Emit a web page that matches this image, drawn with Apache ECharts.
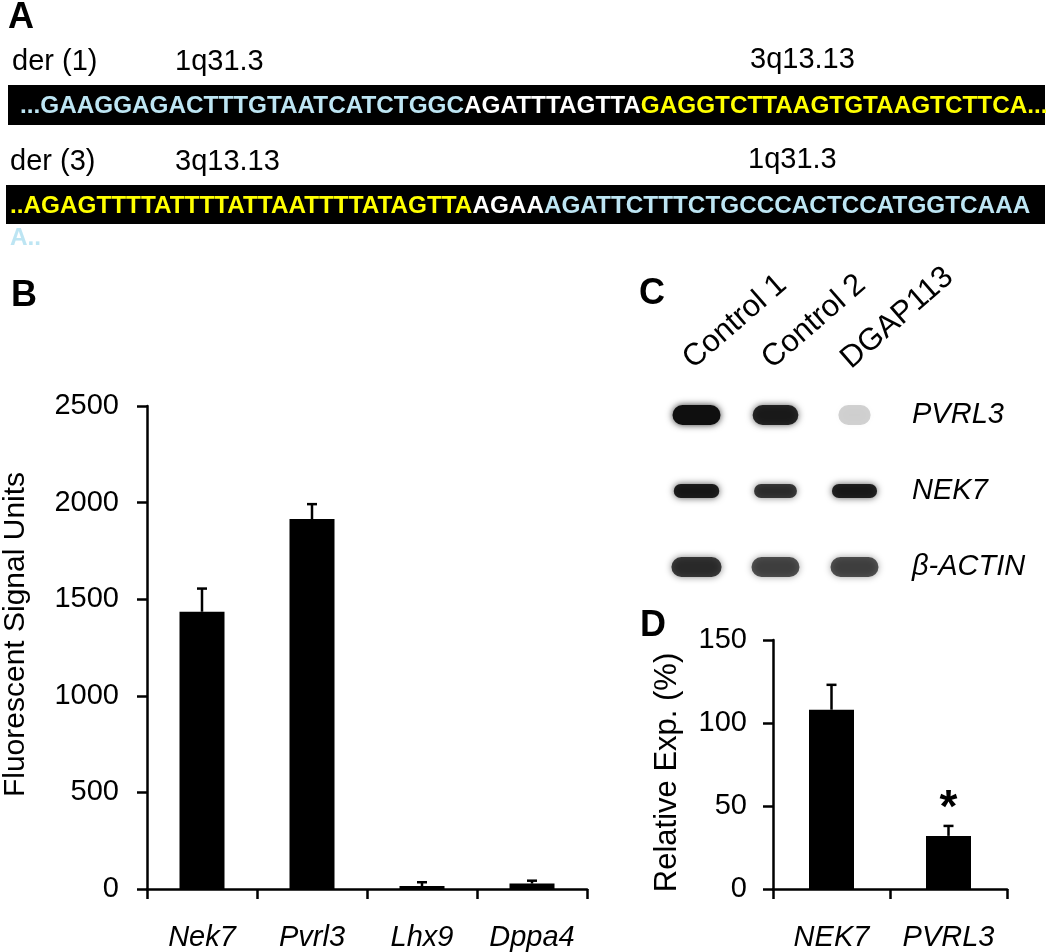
<!DOCTYPE html>
<html>
<head>
<meta charset="utf-8">
<script src="https://cdn.jsdelivr.net/npm/echarts@6/dist/echarts.min.js"></script>
<style>
  html, body { margin: 0; padding: 0; background: #fff; }
  #main { width: 1050px; height: 952px; }
</style>
</head>
<body>
<div id="main"></div>
<script>
// panel A: breakpoint sequences (segments: chr1 / junction / chr3)
var der1Seq = ['...GAAGGAGACTTTGTAATCATCTGGC', 'AGATTTAGTTA', 'GAGGTCTTAAGTGTAAGTCTTCA...'];
var der3Seq = ['..AGAGTTTTATTTTATTAATTTTATAGTTA', 'AGAA', 'AGATTCTTTCTGCCCACTCCATGGTCAAA'];
var der3Wrap = 'A..';

// panel B
var genesB = ['Nek7', 'Pvrl3', 'Lhx9', 'Dppa4'];
var signalB = [1435, 1915, 15, 28];
var errB = [120, 77, 20, 15];

// panel C: band intensity (0..1) per lane
var lanes = ['Control 1', 'Control 2', 'DGAP113'];
var blotRows = ['PVRL3', 'NEK7', 'β-ACTIN'];
var bandPVRL3 = [1.0, 0.88, 0.18];
var bandNEK7 = [0.92, 0.78, 0.9];
var bandACTIN = [0.78, 0.68, 0.68];

// panel D
var genesD = ['NEK7', 'PVRL3'];
var relExp = [108, 32];
var errD = [15, 6];
var sigD = ['', '*'];

var FONT = 'Liberation Sans, Arial, sans-serif';
var BLUE = '#bde5f3', YEL = '#ffff00';

var chart = echarts.init(document.getElementById('main'));

function errItem(sig) {
  return function (params, api) {
    var i = params.dataIndex;
    var v = api.value(1), e = api.value(2);
    var b = api.coord([i, v]);
    var t = api.coord([i, v + e]);
    var kids = [
      { type: 'line', shape: { x1: b[0], y1: b[1], x2: t[0], y2: t[1] }, style: { stroke: '#000', lineWidth: 2.5 } },
      { type: 'line', shape: { x1: t[0] - 5, y1: t[1], x2: t[0] + 5, y2: t[1] }, style: { stroke: '#000', lineWidth: 2.5 } }
    ];
    if (sig && sig[i]) {
      kids.push({ type: 'text', x: t[0], y: t[1] + 6,
        style: { text: sig[i], font: 'bold 46px ' + FONT, fill: '#000', align: 'center', verticalAlign: 'bottom' } });
    }
    return { type: 'group', children: kids };
  };
}

var bandW = [48, 47, 55], bandH = [20, 14, 20];
function bandItem(params, api) {
  var p = api.coord([api.value(0), api.value(1)]);
  var r = api.value(1), k = api.value(2);
  var w = bandW[r] * (0.6 + 0.4 * k), h = bandH[r];
  return {
    type: 'rect',
    shape: { x: p[0] - w / 2, y: p[1] - h / 2, width: w, height: h, r: h / 2 },
    style: { fill: 'rgba(15,15,15,' + k + ')', shadowBlur: 7, shadowColor: 'rgba(0,0,0,' + (0.8 * k) + ')' }
  };
}

var bandData = [];
[bandPVRL3, bandNEK7, bandACTIN].forEach(function (row, r) {
  row.forEach(function (k, l) { bandData.push([l, r, k]); });
});

var axisLine = { show: true, lineStyle: { color: '#000', width: 2.5 } };
var tick = { show: true, length: 10, lineStyle: { color: '#000', width: 2.5 } };
var lbl = { color: '#000', fontSize: 29, fontFamily: FONT };
var plain = function (v) { return String(v); };

function txt(x, y, s, extra) {
  var st = { text: s, font: '29px ' + FONT, fill: '#000', verticalAlign: 'middle' };
  for (var k in extra) st[k] = extra[k];
  return { type: 'text', x: x, y: y, style: st };
}

function richRow(segs, colors) {
  var str = segs.map(function (s, i) { return '{c' + i + '|' + s + '}'; }).join('');
  var rich = {};
  colors.forEach(function (c, i) {
    rich['c' + i] = { fill: c, fontSize: 24.3, fontWeight: 'bold', fontFamily: FONT };
  });
  return { text: str, rich: rich, verticalAlign: 'middle', font: 'bold 24.3px ' + FONT };
}

var option = {
  animation: false,
  backgroundColor: '#fff',
  grid: [
    { left: 141, top: 406, width: 446, height: 483 },
    { left: 773, top: 640, width: 234, height: 249 },
    { left: 657, top: 377, width: 237, height: 228 },
    { left: 648, top: 375, width: 237, height: 228 }
  ],
  xAxis: [
    { gridIndex: 0, type: 'category', data: genesB, axisLine: axisLine, axisTick: tick,
      axisLabel: Object.assign({ fontStyle: 'italic', margin: 34, interval: 0 }, lbl) },
    { gridIndex: 1, type: 'category', data: genesD, axisLine: axisLine, axisTick: tick,
      axisLabel: Object.assign({ fontStyle: 'italic', margin: 34, interval: 0 }, lbl) },
    { gridIndex: 2, type: 'category', data: lanes, show: false },
    { gridIndex: 3, type: 'category', data: lanes, position: 'top',
      axisLine: { show: false }, axisTick: { show: false },
      axisLabel: { rotate: 41, margin: 12, interval: 0, color: '#000', fontSize: 31, fontFamily: FONT } }
  ],
  yAxis: [
    { gridIndex: 0, type: 'value', min: 0, max: 2500, interval: 500, splitLine: { show: false },
      axisLine: axisLine, axisTick: tick,
      axisLabel: Object.assign({ margin: 28, formatter: plain }, lbl),
      name: 'Fluorescent Signal Units', nameLocation: 'middle', nameGap: 116,
      nameTextStyle: { color: '#000', fontSize: 30, fontFamily: FONT, padding: [0, 0, 0, 26] } },
    { gridIndex: 1, type: 'value', min: 0, max: 150, interval: 50, splitLine: { show: false },
      axisLine: axisLine, axisTick: tick,
      axisLabel: Object.assign({ margin: 26, formatter: plain }, lbl),
      name: 'Relative Exp. (%)', nameLocation: 'middle', nameGap: 90,
      nameTextStyle: { color: '#000', fontSize: 31, fontFamily: FONT, padding: [0, 16, 0, 0] } },
    { gridIndex: 2, type: 'category', data: blotRows, inverse: true, position: 'right',
      axisLine: { show: false }, axisTick: { show: false }, splitLine: { show: false },
      axisLabel: Object.assign({ fontStyle: 'italic', margin: 18, align: 'left' }, lbl) },
    { gridIndex: 3, type: 'value', show: false }
  ],
  series: [
    { type: 'bar', xAxisIndex: 0, yAxisIndex: 0, data: signalB, barWidth: 45,
      itemStyle: { color: '#000' } },
    { type: 'custom', xAxisIndex: 0, yAxisIndex: 0, renderItem: errItem(null), z: 5,
      data: genesB.map(function (g, i) { return [i, signalB[i], errB[i]]; }) },
    { type: 'bar', xAxisIndex: 1, yAxisIndex: 1, data: relExp, barWidth: 45,
      itemStyle: { color: '#000' } },
    { type: 'custom', xAxisIndex: 1, yAxisIndex: 1, renderItem: errItem(sigD), z: 5,
      data: genesD.map(function (g, i) { return [i, relExp[i], errD[i]]; }) },
    { type: 'custom', xAxisIndex: 2, yAxisIndex: 2, renderItem: bandItem, data: bandData }
  ],
  graphic: [
    txt(8, 18, 'A', { font: 'bold 36px ' + FONT }),
    txt(11, 296, 'B', { font: 'bold 36px ' + FONT }),
    txt(639, 294, 'C', { font: 'bold 36px ' + FONT }),
    txt(640, 626, 'D', { font: 'bold 36px ' + FONT }),
    txt(12, 62, 'der (1)'),
    txt(175, 62, '1q31.3'),
    txt(750, 60, '3q13.13'),
    txt(10, 162, 'der (3)'),
    txt(175, 162, '3q13.13'),
    txt(748, 160, '1q31.3'),
    { type: 'rect', shape: { x: 8, y: 85, width: 1037, height: 40 }, style: { fill: '#000' } },
    { type: 'rect', shape: { x: 6, y: 185, width: 1039, height: 39 }, style: { fill: '#000' } },
    { type: 'text', x: 20, y: 106, style: richRow(der1Seq, [BLUE, '#fff', YEL]) },
    { type: 'text', x: 10, y: 206, style: richRow(der3Seq, [YEL, '#fff', BLUE]) },
    { type: 'text', x: 10, y: 238, style: richRow([der3Wrap], [BLUE]) }
  ]
};

chart.setOption(option);
</script>
</body>
</html>
